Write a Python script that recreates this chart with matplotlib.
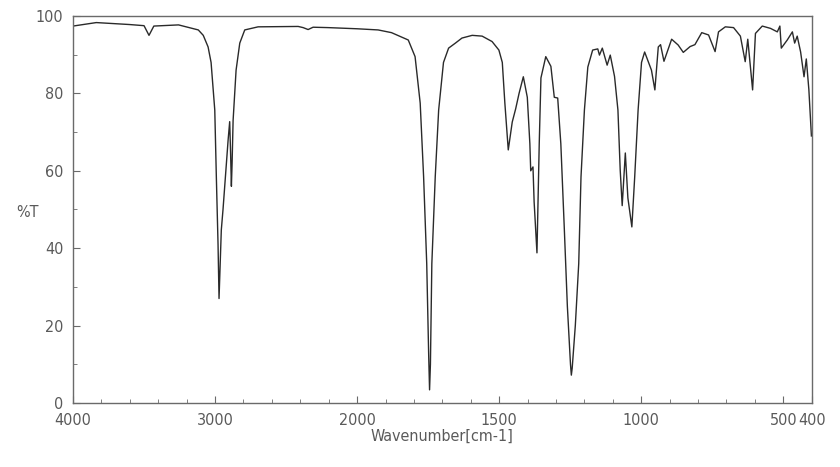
import matplotlib
matplotlib.use("Agg")
import matplotlib.pyplot as plt
import numpy as np

plt.rcParams['font.family'] = ['DejaVu Sans']
plt.rcParams['font.stretch'] = 'condensed'

# IR spectrum (wavenumber in cm-1, transmittance in %T)
wavenumber = [
    4000, 3836, 3743, 3604, 3500, 3465, 3431, 3257, 3118, 3083, 3049, 3028, 3002,
    2991, 2979, 2972, 2956, 2944, 2908, 2897, 2891, 2885, 2880, 2873, 2852, 2826,
    2791, 2697, 2415, 2380, 2345, 2310, 2204, 2000,
    1926, 1879, 1820, 1796, 1778, 1766, 1755, 1748, 1745, 1742, 1737, 1725, 1713,
    1696, 1678, 1654, 1631, 1595, 1560, 1525, 1501, 1489, 1480, 1468, 1454, 1442,
    1430, 1415, 1401, 1392, 1389, 1381, 1377, 1367, 1359, 1353, 1336, 1318, 1306,
    1294, 1283, 1271, 1260, 1249, 1246, 1243, 1232, 1220, 1212, 1200, 1188, 1171,
    1153, 1147, 1137, 1120, 1109, 1094, 1082, 1074, 1067, 1056, 1047, 1033, 1023,
    1011, 999, 988, 964, 952, 940, 932, 920, 893, 870, 852, 828, 811, 787, 763,
    740, 728, 704, 675, 651, 634, 625, 608, 598, 574, 545, 521, 512, 507, 486,
    468, 460, 451, 439, 427, 419, 410, 401,
]
transmittance = [
    97.4, 98.3, 98.1, 97.8, 97.5, 95.0, 97.4, 97.7, 96.4, 95.0, 92.0, 88.0, 75.7,
    58.5, 41.0, 27.0, 44.7, 50.0, 68.0, 72.7, 65.0, 56.0, 62.0, 73.0, 86.0, 93.0,
    96.4, 97.2, 97.3, 97.0, 96.5, 97.1, 97.0, 96.7,
    96.4, 95.7, 93.8, 89.5, 77.5, 58.5, 36.0, 12.0, 3.4, 10.0, 36.0, 58.5, 75.7,
    88.0, 91.7, 93.0, 94.3, 95.0, 94.8, 93.4, 91.2, 88.0, 77.5, 65.4, 72.6, 76.0,
    80.0, 84.3, 79.0, 67.0, 60.0, 61.0, 52.0, 38.8, 67.0, 84.0, 89.5, 87.0, 79.0,
    78.8, 67.0, 45.5, 25.0, 10.0, 7.2, 9.0, 20.0, 36.0, 58.4, 75.7, 86.8, 91.2,
    91.5, 89.9, 91.7, 87.3, 89.9, 84.4, 75.7, 60.2, 51.0, 64.6, 53.0, 45.5, 58.4,
    75.7, 88.0, 90.7, 86.0, 80.9, 92.0, 92.6, 88.3, 94.0, 92.5, 90.6, 92.1, 92.6,
    95.7, 95.1, 90.8, 95.9, 97.2, 97.0, 94.8, 88.2, 94.0, 80.9, 95.5, 97.4, 96.8,
    95.9, 97.4, 91.7, 93.8, 95.9, 93.0, 94.8, 90.7, 84.3, 88.9, 81.0, 69.0,
]

major_ticks = [4000, 3000, 2000, 1500, 1000, 500, 400]
minor_ticks = [3800, 3600, 3400, 3200, 2800, 2600, 2400, 2200,
               1900, 1800, 1700, 1600, 1400, 1300, 1200, 1100,
               900, 800, 700, 600]


# the axis is compressed by half above 2000 cm-1
def forward(w):
    w = np.asarray(w, dtype=float)
    return np.where(w >= 2000, w / 2 + 1000, w)


def inverse(u):
    u = np.asarray(u, dtype=float)
    return np.where(u >= 2000, (u - 1000) * 2, u)


fig = plt.figure(figsize=(8.4, 4.67), dpi=100)
ax = fig.add_axes([73 / 840, 1 - 403 / 467, (811.7 - 73) / 840, (403 - 16) / 467])

ax.plot(wavenumber, transmittance, color='#2a2a2a', linewidth=1.0)

ax.set_xscale('function', functions=(forward, inverse))
ax.set_xlim(4000, 400)
ax.set_ylim(0, 100)

ax.set_xticks(major_ticks)
ax.set_xticklabels([str(t) for t in major_ticks])
ax.set_xticks(minor_ticks, minor=True)
ax.set_yticks([0, 20, 40, 60, 80, 100])
ax.set_yticks([10, 30, 50, 70, 90], minor=True)

grey = '#5a5a5a'
for s in ax.spines.values():
    s.set_color('#6a6a6a')
    s.set_linewidth(1.0)
ax.tick_params(which='both', direction='in', colors='#6a6a6a', labelcolor=grey,
               labelsize=11.5)
ax.tick_params(which='major', length=5)
ax.tick_params(which='minor', length=3)
ax.tick_params(axis='x', pad=7)
ax.tick_params(axis='y', pad=7)

ax.set_xlabel('Wavenumber[cm-1]', fontsize=11.5, color=grey, labelpad=1)
ax.set_ylabel('%T', fontsize=11.5, color=grey, rotation=0)
ax.yaxis.set_label_coords(-0.061, (403 - 220) / 387)

fig.savefig('out.png', dpi=100)
